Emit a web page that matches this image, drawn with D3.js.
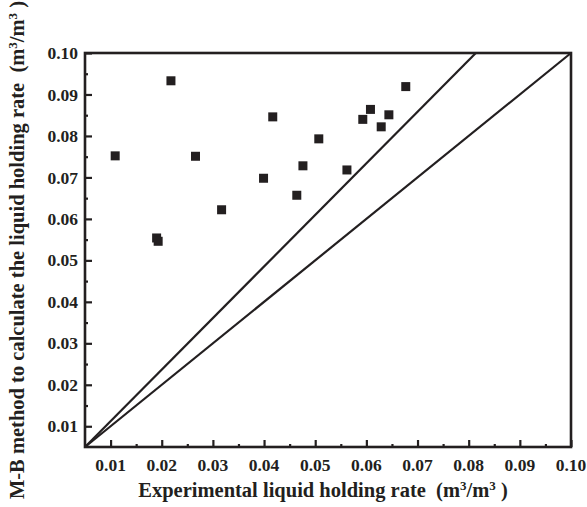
<!DOCTYPE html>
<html>
<head>
<meta charset="utf-8">
<script src="https://cdn.jsdelivr.net/npm/d3@7"></script>
<style>
  body { margin: 0; background: #fff; }
  text { font-family: "Liberation Serif", "Times New Roman", serif; font-weight: bold; fill: #231f20; }
</style>
</head>
<body>
<div id="chart"></div>
<script>
// experimental vs M-B calculated liquid holding rate
const expRate = [0.0109, 0.0218, 0.0266, 0.0317, 0.0190, 0.0193, 0.0399, 0.0417, 0.0464,
  0.0476, 0.0507, 0.0562, 0.0593, 0.0608, 0.0629, 0.0644, 0.0677];
const mbRate = [0.0752, 0.0933, 0.0751, 0.0622, 0.0554, 0.0546, 0.0698, 0.0846, 0.0657,
  0.0728, 0.0793, 0.0718, 0.0840, 0.0864, 0.0822, 0.0851, 0.0919];
// reference lines (start, end) : y = x and the upper error line
const lineX = [[0.005, 0.1], [0.005, 0.0814]];
const lineY = [[0.005, 0.1], [0.005, 0.1]];
const tickVals = [0.01, 0.02, 0.03, 0.04, 0.05, 0.06, 0.07, 0.08, 0.09, 0.10];
const minorVals = [0.015, 0.025, 0.035, 0.045, 0.055, 0.065, 0.075, 0.085, 0.095];

const W = 587, H = 507;
const margin = { top: 53, right: 16, bottom: 60, left: 85 };
const width = W - margin.left - margin.right,
  height = H - margin.top - margin.bottom;
const ink = "#231f20";

const x = d3.scaleLinear().domain([0.005, 0.1]).range([0, width]);
const y = d3.scaleLinear().domain([0.005, 0.1]).range([height, 0]);

const svg = d3.select("#chart").append("svg")
  .attr("width", W).attr("height", H)
  .append("g")
  .attr("transform", `translate(${margin.left},${margin.top})`);

// ref lines
const line = d3.line().x(d => x(d[0])).y(d => y(d[1]));
lineX.forEach((lx, i) => {
  svg.append("path")
    .attr("d", line([[lx[0], lineY[i][0]], [lx[1], lineY[i][1]]]))
    .attr("fill", "none")
    .attr("stroke", ink)
    .attr("stroke-width", 2.2);
});

// points
svg.append("g").selectAll("rect")
  .data(expRate.map((d, i) => [d, mbRate[i]]))
  .enter()
  .append("rect")
  .attr("x", d => x(d[0]) - 4.5)
  .attr("y", d => y(d[1]) - 4.5)
  .attr("width", 9).attr("height", 9)
  .attr("fill", ink);

// axes (ticks point inward)
const xAxis = svg.append("g").attr("transform", `translate(0,${height})`)
  .call(d3.axisTop(x).tickValues(tickVals).tickSize(7).tickFormat(""));
xAxis.append("g").call(d3.axisTop(x).tickValues(minorVals).tickSize(3).tickFormat(""));
svg.append("g").selectAll("text").data(tickVals).enter().append("text")
  .attr("x", d => x(d)).attr("y", height + 24)
  .attr("text-anchor", "middle")
  .attr("font-size", 17.5)
  .text(d3.format(".2f"));

const yAxis = svg.append("g")
  .call(d3.axisRight(y).tickValues(tickVals).tickSize(7).tickFormat(""));
yAxis.append("g").call(d3.axisRight(y).tickValues(minorVals).tickSize(3).tickFormat(""));
svg.append("g").selectAll("text").data(tickVals).enter().append("text")
  .attr("x", -7).attr("y", d => y(d)).attr("dy", "0.35em")
  .attr("text-anchor", "end")
  .attr("font-size", 17.5)
  .text(d3.format(".2f"));

svg.selectAll(".domain").remove();
svg.selectAll(".tick line").attr("stroke", ink).attr("stroke-width", 2.2);

// frame
svg.append("rect")
  .attr("width", width).attr("height", height)
  .attr("fill", "none").attr("stroke", ink).attr("stroke-width", 2.6);

// titles
const unit = (t) => {
  t.append("tspan").text("(m");
  t.append("tspan").attr("baseline-shift", "super").attr("font-size", 13).text("3");
  t.append("tspan").text("/m");
  t.append("tspan").attr("baseline-shift", "super").attr("font-size", 13).text("3");
  t.append("tspan").text(" )");
};
const xt = svg.append("text")
  .attr("x", width / 2 - 5).attr("y", height + 50)
  .attr("text-anchor", "middle").attr("font-size", 20.5)
  .attr("xml:space", "preserve");
xt.append("tspan").text("Experimental liquid holding rate  ");
unit(xt);

const yt = svg.append("text")
  .attr("transform", `translate(${-margin.left + 24},${height / 2}) rotate(-90)`)
  .attr("text-anchor", "middle").attr("font-size", 20.5)
  .attr("xml:space", "preserve");
yt.append("tspan").text("M-B method to calculate the liquid holding rate  ");
unit(yt);
</script>
</body>
</html>
